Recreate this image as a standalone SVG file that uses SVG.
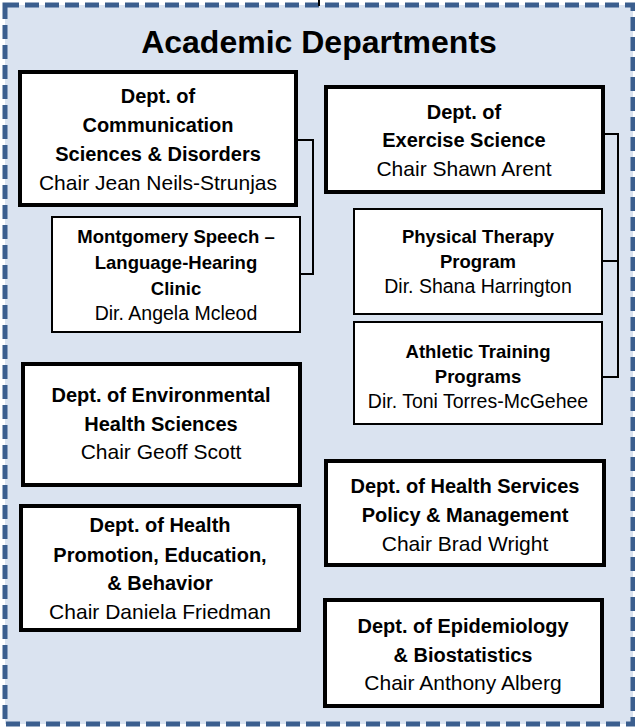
<svg xmlns="http://www.w3.org/2000/svg" width="635" height="727" viewBox="0 0 635 727">
<style>
.frame{fill:#DAE3F0;stroke:#3B5E8E;stroke-width:5;stroke-dasharray:14 6}
.box{fill:#FFFFFF;stroke:#000000;stroke-width:4}
.sub{fill:#FFFFFF;stroke:#000000;stroke-width:2}
.conn{fill:none;stroke:#000000;stroke-width:2}
text{font-family:"Liberation Sans",Arial,sans-serif;fill:#000000;text-anchor:middle}
.b{font-weight:bold;font-size:20px}
.r{font-size:21px}
.bs{font-weight:bold;font-size:18.5px}
.rs{font-size:19.5px}
.title{font-weight:bold;font-size:32px}
</style>
<g id="frame">
<rect class="frame" x="5" y="5" width="628" height="719"/>
<text class="title" x="319" y="53">Academic Departments</text>
</g>
<g id="connectors">
<line class="conn" x1="319" y1="0" x2="319" y2="6"/>
<polyline class="conn" points="298,140 313,140 313,274 301,274"/>
<polyline class="conn" points="605,134 618,134 618,377 603,377"/>
<line class="conn" x1="603" y1="261" x2="618" y2="261"/>
</g>
<g id="comm">
<rect class="box" x="20" y="72" width="276" height="133"/>
<text class="b" x="158" y="103">Dept. of</text>
<text class="b" x="158" y="132">Communication</text>
<text class="b" x="158" y="161">Sciences &amp; Disorders</text>
<text class="r" x="158" y="190">Chair Jean Neils-Strunjas</text>
</g>
<g id="clinic">
<rect class="sub" x="52" y="217" width="248" height="115"/>
<text class="bs" x="176" y="243">Montgomery Speech –</text>
<text class="bs" x="176" y="269">Language-Hearing</text>
<text class="bs" x="176" y="295">Clinic</text>
<text class="rs" x="176" y="320">Dir. Angela Mcleod</text>
</g>
<g id="exercise">
<rect class="box" x="326" y="87" width="277" height="105"/>
<text class="b" x="464" y="119">Dept. of</text>
<text class="b" x="464" y="147">Exercise Science</text>
<text class="r" x="464" y="176">Chair Shawn Arent</text>
</g>
<g id="pt">
<rect class="sub" x="354" y="209" width="248" height="105"/>
<text class="bs" x="478" y="243">Physical Therapy</text>
<text class="bs" x="478" y="268">Program</text>
<text class="rs" x="478" y="293">Dir. Shana Harrington</text>
</g>
<g id="at">
<rect class="sub" x="354" y="322" width="248" height="102"/>
<text class="bs" x="478" y="358">Athletic Training</text>
<text class="bs" x="478" y="383">Programs</text>
<text class="rs" x="478" y="408">Dir. Toni Torres-McGehee</text>
</g>
<g id="env">
<rect class="box" x="23" y="364" width="277" height="121"/>
<text class="b" x="161" y="402">Dept. of Environmental</text>
<text class="b" x="161" y="431">Health Sciences</text>
<text class="r" x="161" y="459">Chair Geoff Scott</text>
</g>
<g id="hpeb">
<rect class="box" x="21" y="506" width="278" height="124"/>
<text class="b" x="160" y="532">Dept. of Health</text>
<text class="b" x="160" y="562">Promotion, Education,</text>
<text class="b" x="160" y="590">&amp; Behavior</text>
<text class="r" x="160" y="619">Chair Daniela Friedman</text>
</g>
<g id="hspm">
<rect class="box" x="326" y="461" width="278" height="104"/>
<text class="b" x="465" y="493">Dept. of Health Services</text>
<text class="b" x="465" y="522">Policy &amp; Management</text>
<text class="r" x="465" y="551">Chair Brad Wright</text>
</g>
<g id="epi">
<rect class="box" x="325" y="600" width="277" height="106"/>
<text class="b" x="463" y="633">Dept. of Epidemiology</text>
<text class="b" x="463" y="662">&amp; Biostatistics</text>
<text class="r" x="463" y="690">Chair Anthony Alberg</text>
</g>
</svg>
